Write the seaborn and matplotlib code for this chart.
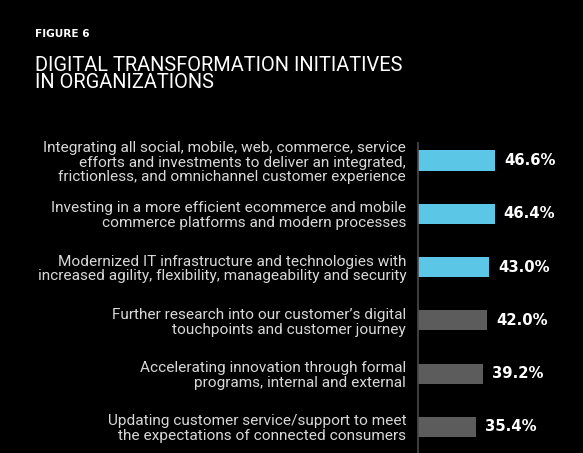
import matplotlib
matplotlib.use("Agg")
import matplotlib.pyplot as plt
import seaborn as sns
import pandas as pd

categories = [
    "Integrating all social, mobile, web, commerce, service\nefforts and investments to deliver an integrated,\nfrictionless, and omnichannel customer experience",
    "Investing in a more efficient ecommerce and mobile\ncommerce platforms and modern processes",
    "Modernized IT infrastructure and technologies with\nincreased agility, flexibility, manageability and security",
    "Further research into our customer\u2019s digital\ntouchpoints and customer journey",
    "Accelerating innovation through formal\nprograms, internal and external",
    "Updating customer service/support to meet\nthe expectations of connected consumers",
]
values = [46.6, 46.4, 43.0, 42.0, 39.2, 35.4]
value_labels = ["46.6%", "46.4%", "43.0%", "42.0%", "39.2%", "35.4%"]
groups = ["top", "top", "top", "other", "other", "other"]

sns.set_theme(style="white")
plt.rcParams["font.family"] = ["Roboto", "DejaVu Sans"]

BG = "#000000"
palette = {"top": "#5cc6e6", "other": "#5c5c5c"}

df = pd.DataFrame({"cat": categories, "val": values, "grp": groups})

W, H = 583, 453
fig = plt.figure(figsize=(W / 100, H / 100), dpi=100, facecolor=BG)
ax = fig.add_axes([418 / W, 0, 1 - 418 / W, 1 - 143 / H])
ax.set_facecolor(BG)

sns.barplot(data=df, x="val", y="cat", hue="grp", palette=palette,
            dodge=False, width=0.38, legend=False, ax=ax, saturation=1,
            linewidth=0)

ax.set_xlim(0, 100)
ax.set_ylim(5.49, -0.33)
ax.set_xlabel("")
ax.set_ylabel("")
ax.set_xticks([])
for s in ["top", "right", "bottom"]:
    ax.spines[s].set_visible(False)
ax.spines["left"].set_color("#4a4a4a")
ax.spines["left"].set_linewidth(1.2)
ax.tick_params(axis="y", length=0, pad=8.5, labelsize=11.1, labelcolor="#d8d8d8")
for lab in ax.get_yticklabels():
    lab.set_multialignment("right")
    lab.set_linespacing(1.08)

for i, (v, t) in enumerate(zip(values, value_labels)):
    ax.text(v + 5.5, i, t, color="white", fontsize=10.7, fontweight="bold",
            va="center", ha="left", family=["DejaVu Sans"])

fig.text(35 / W, 1 - 37 / H, "FIGURE 6", color="white", fontsize=7.6,
         fontweight="bold", ha="left", va="baseline", family=["DejaVu Sans"])
fig.text(35 / W, 1 - 56 / H, "DIGITAL TRANSFORMATION INITIATIVES\nIN ORGANIZATIONS",
         color="white", fontsize=14.4, ha="left", va="top", linespacing=0.88)

fig.savefig("out.png", dpi=100, facecolor=BG)
